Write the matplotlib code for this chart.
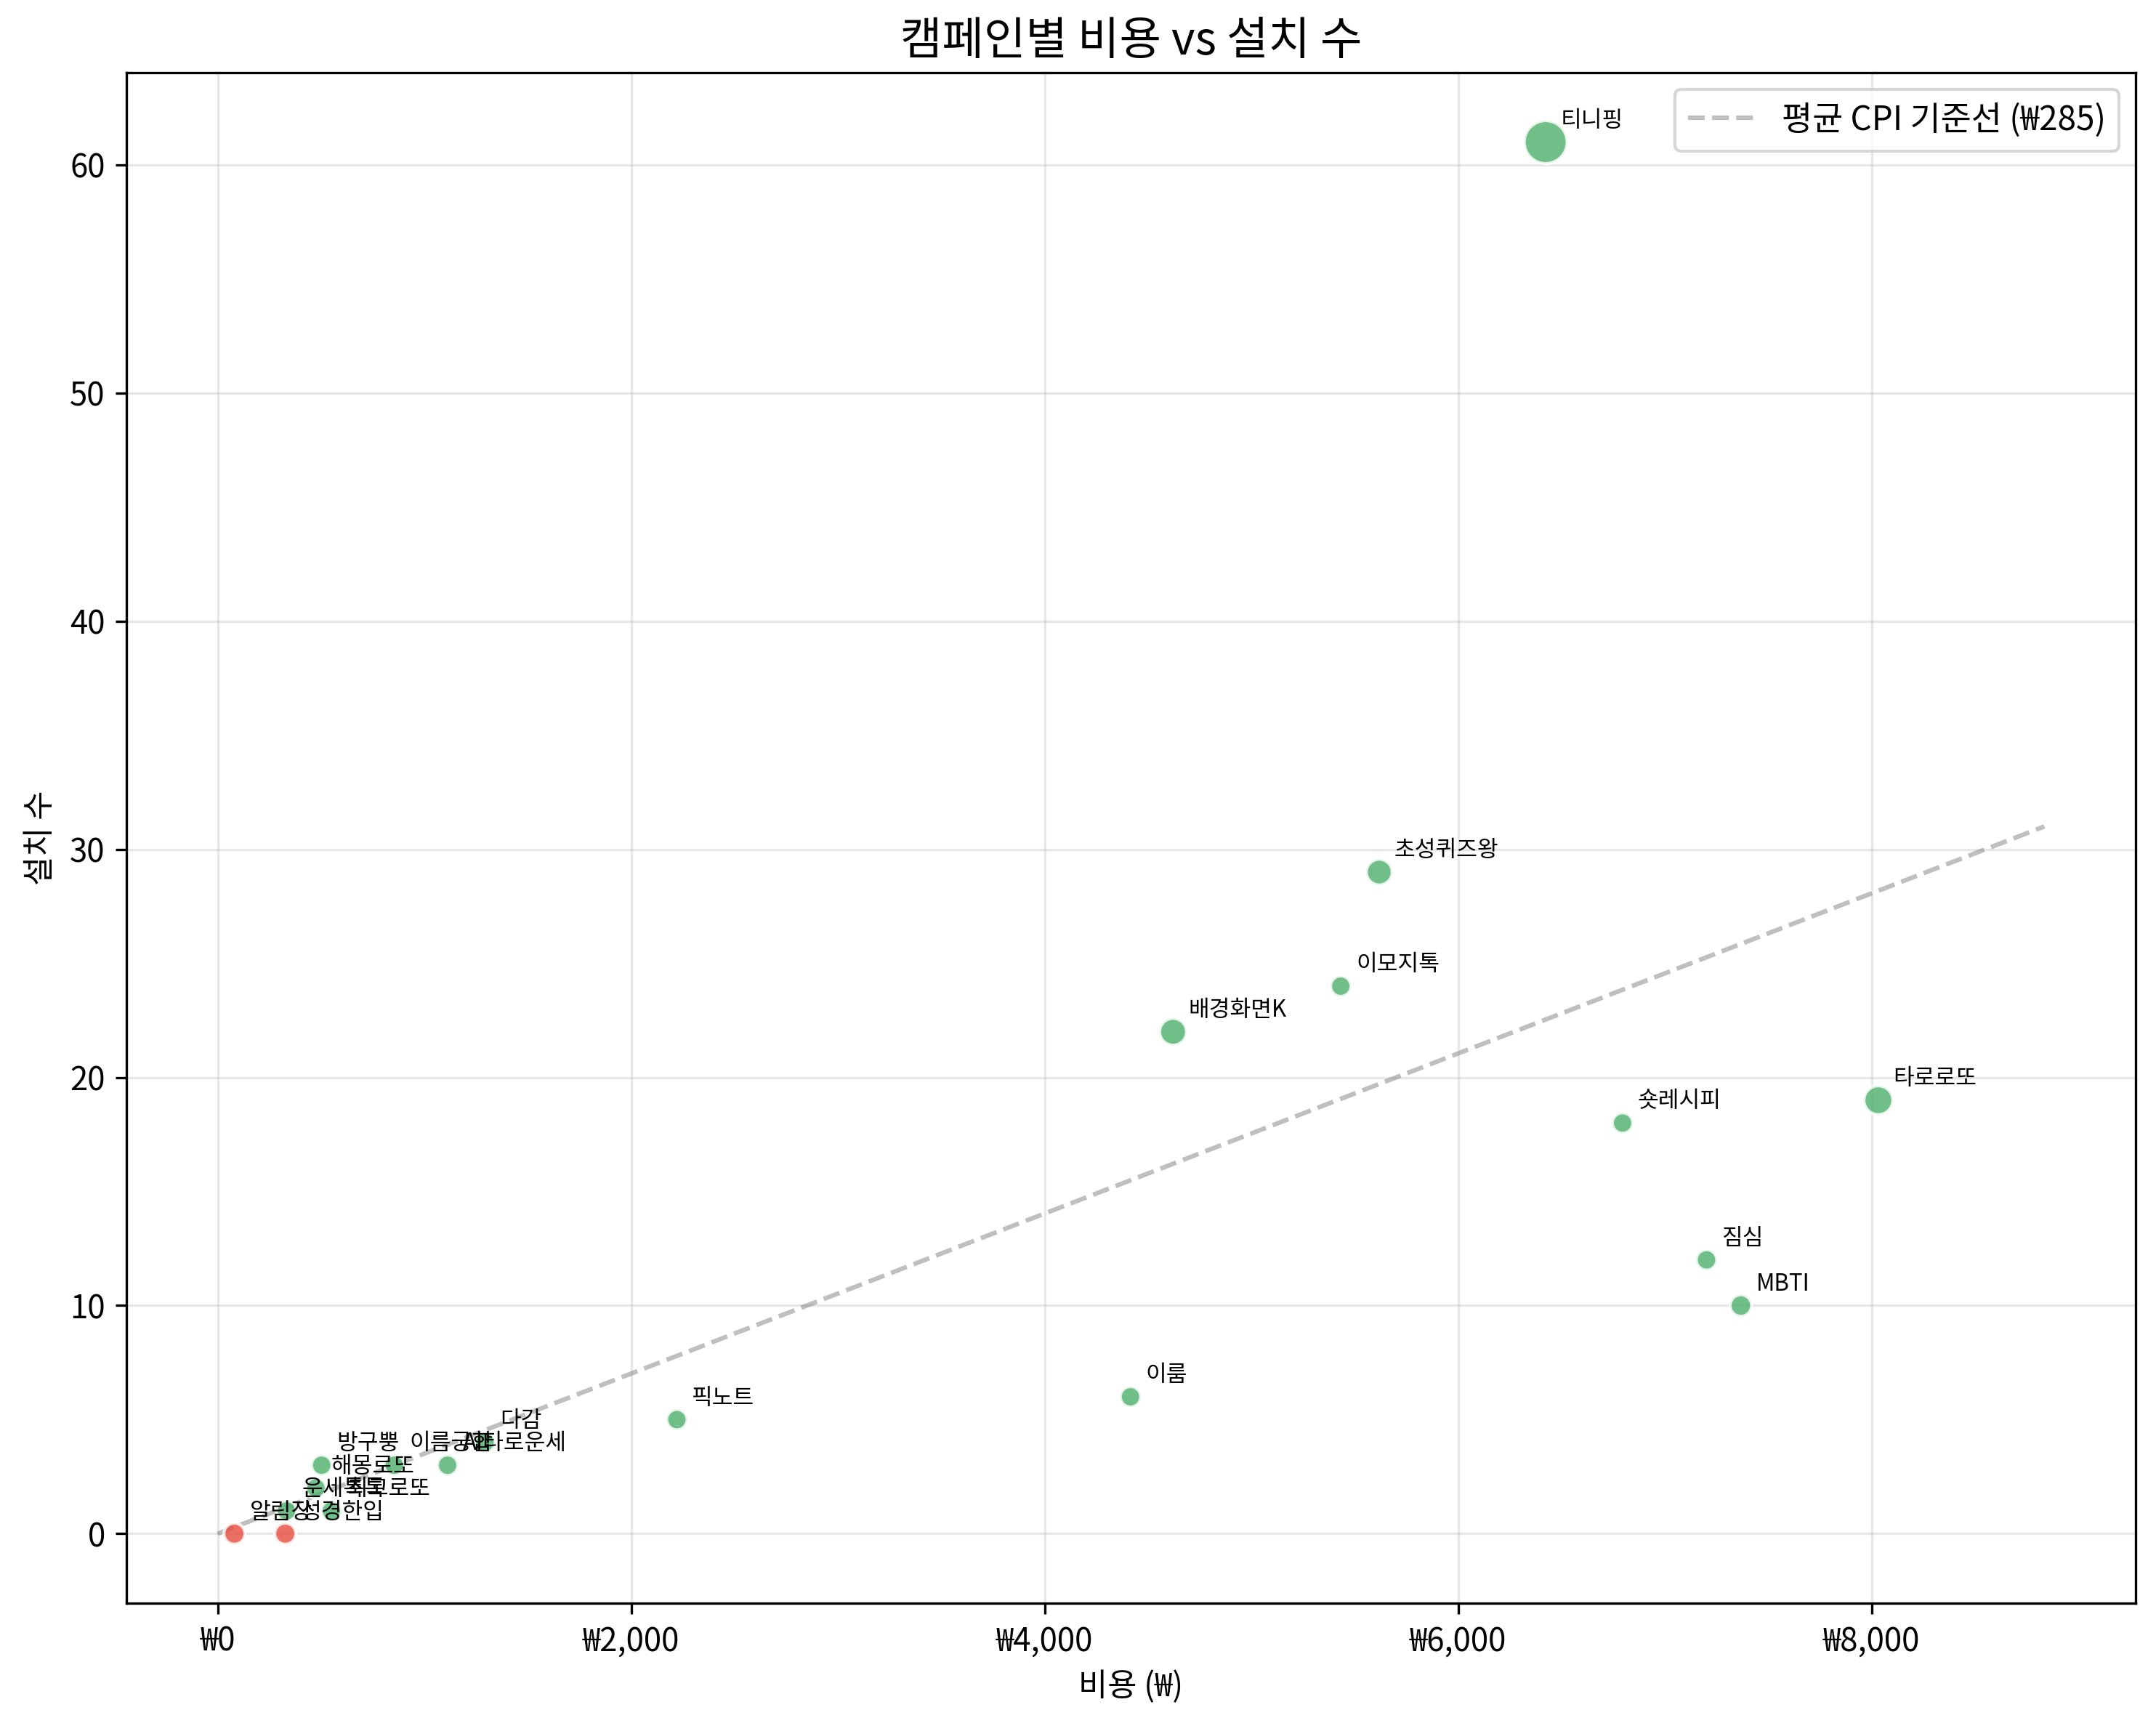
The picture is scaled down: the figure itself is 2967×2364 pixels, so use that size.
import numpy as np
import matplotlib
matplotlib.use('Agg')
import matplotlib.pyplot as plt
from matplotlib.ticker import FuncFormatter

plt.rcParams['font.family'] = ['Noto Sans CJK KR', 'DejaVu Sans']
plt.rcParams['axes.unicode_minus'] = False

# campaign data
campaigns = ['티니핑', '초성퀴즈왕', '이모지톡', '배경화면K', '숏레시피', '타로로또',
             '짐심', 'MBTI', '이룸', '픽노트', '다감', 'AI타로운세', '이름궁합',
             '방구뿡', '해몽로또', '운세톡톡', '최고로또', '알림장', '성경한입']
costs = [6423, 5618, 5432, 4621, 6795, 8032,
         7201, 7367, 4415, 2221, 1293, 1112, 854,
         503, 475, 333, 550, 81, 327]
installs = [61, 29, 24, 22, 18, 19,
            12, 10, 6, 5, 4, 3, 3,
            3, 2, 1, 1, 0, 0]
avg_cpi = 285

# marker sizes as drawn
marker_sizes = [200, 72, 45, 78, 45, 90,
                45, 50, 45, 45, 45, 45, 45,
                45, 45, 45, 45, 48, 48]

green = '#4caf6a'
red = '#e74c3c'
colors = [green if i > 0 else red for i in installs]

fig = plt.figure(figsize=(2967 / 300, 2364 / 300), dpi=300)
ax = fig.add_axes([0.0586, 0.0668, 0.932, 0.891])

ax.scatter(costs, installs, s=marker_sizes, c=colors, alpha=0.8,
           edgecolors='white', linewidths=1, zorder=3)

for name, x, y in zip(campaigns, costs, installs):
    ax.annotate(name, (x, y), xytext=(5, 5), textcoords='offset points',
                fontsize=7.5, zorder=4)

# reference line: average CPI
line_x = np.array([0, max(costs) * 1.1])
ax.plot(line_x, line_x / avg_cpi, '--', color='gray', alpha=0.5, linewidth=1.5,
        label=f'평균 CPI 기준선 (₩{avg_cpi})', zorder=2)

ax.set_title('캠페인별 비용 vs 설치 수', fontsize=15)
ax.set_xlabel('비용 (₩)', fontsize=10.5)
ax.set_ylabel('설치 수', fontsize=10.5)
ax.xaxis.set_major_formatter(FuncFormatter(lambda v, p: f'₩{v:,.0f}'))
ax.tick_params(labelsize=10.5)
ax.grid(True, alpha=0.3)
ax.legend(loc='upper right', fontsize=11)

fig.savefig('out.png', dpi=300)
